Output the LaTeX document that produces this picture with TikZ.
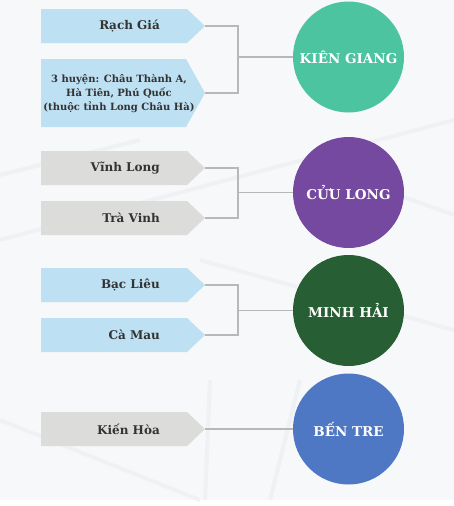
\documentclass[tikz,border=0pt]{standalone}
\usepackage{fontspec}
\setmainfont{DejaVu Serif}
\definecolor{bgc}{HTML}{F7F8F9}
\definecolor{street}{HTML}{EFF1F4}
\definecolor{boxblue}{HTML}{BDE0F3}
\definecolor{boxgray}{HTML}{DCDCDA}
\definecolor{cteal}{HTML}{4DC4A0}
\definecolor{cpurple}{HTML}{7649A0}
\definecolor{cgreen}{HTML}{275E33}
\definecolor{cblue}{HTML}{4E78C4}
\definecolor{linec}{HTML}{B8B8B8}
\definecolor{txt}{HTML}{333333}
\tikzset{
  lbl/.style={anchor=east, inner sep=0pt, text=txt, font=\bfseries\fontsize{12}{14}\selectfont},
  circ/.style={circle, minimum size=111pt, inner sep=0pt, text=white, font=\bfseries\fontsize{13.5}{16}\selectfont},
  conn/.style={draw=linec, line width=1.3pt},
}
\begin{document}
\begin{tikzpicture}[x=1pt,y=-1pt]
\useasboundingbox (0,0) rectangle (454,506);
\fill[white] (0,0) rectangle (454,506);
\fill[bgc] (0,0) rectangle (454,500);
% faint background streets
\begin{scope}[draw=street, line width=4pt]
\draw (0,175) -- (140,140);
\draw (0,240) -- (454,120);
\draw (200,260) -- (454,330);
\draw (0,420) -- (200,500);
\draw (210,380) -- (205,500);
\draw (270,500) -- (300,380);
\draw (300,160) -- (454,215);
\end{scope}
% boxes
\fill[boxblue] (41,9) -- (187,9) -- (205,26) -- (187,43) -- (41,43) -- cycle;
\coordinate (t1) at (205,26);
\fill[boxblue] (41,59) -- (186,59) -- (205,93) -- (186,127) -- (41,127) -- cycle;
\coordinate (t2) at (205,93);
\fill[boxgray] (41,151) -- (187,151) -- (205,168) -- (187,185) -- (41,185) -- cycle;
\coordinate (t3) at (205,168);
\fill[boxgray] (41,201) -- (187,201) -- (205,218) -- (187,235) -- (41,235) -- cycle;
\coordinate (t4) at (205,218);
\fill[boxblue] (41,268) -- (187,268) -- (205,285) -- (187,302) -- (41,302) -- cycle;
\coordinate (t5) at (205,285);
\fill[boxblue] (41,318) -- (187,318) -- (205,335) -- (187,352) -- (41,352) -- cycle;
\coordinate (t6) at (205,335);
\fill[boxgray] (41,412) -- (187,412) -- (205,429) -- (187,446) -- (41,446) -- cycle;
\coordinate (t7) at (205,429);
% labels
\node[lbl] (l1) at (160,26) {Rạch Giá};
\node[inner sep=0pt, text=txt, align=center, font=\bfseries\fontsize{10}{14}\selectfont] (l2) at (119,94) {3 huyện: Châu Thành A,\\Hà Tiên, Phú Quốc\\(thuộc tỉnh Long Châu Hà)};
\node[lbl] (l3) at (160,168) {Vĩnh Long};
\node[lbl] (l4) at (160,218) {Trà Vinh};
\node[lbl] (l5) at (160,285) {Bạc Liêu};
\node[lbl] (l6) at (160,335) {Cà Mau};
\node[lbl] (l7) at (160,429) {Kiến Hòa};
% circles
\node[circ, fill=cteal] (kg) at (348.5,57) {KIÊN GIANG};
\node[circ, fill=cpurple] (cl) at (348.5,192.5) {CỬU LONG};
\node[circ, fill=cgreen] (mh) at (348.5,310.5) {MINH HẢI};
\node[circ, fill=cblue] (bt) at (348.5,429) {BẾN TRE};
% connectors
\coordinate (j1) at (238,57);
\draw[conn] (t1) -| (j1) |- (t2);
\draw[conn] (j1) -- (kg.west);
\coordinate (j2) at (238,192.5);
\draw[conn] (t3) -| (j2) |- (t4);
\draw[conn] (j2) -- (cl.west);
\coordinate (j3) at (238,310.5);
\draw[conn] (t5) -| (j3) |- (t6);
\draw[conn] (j3) -- (mh.west);
\draw[conn] (t7) -- (bt.west);
\end{tikzpicture}
\end{document}
